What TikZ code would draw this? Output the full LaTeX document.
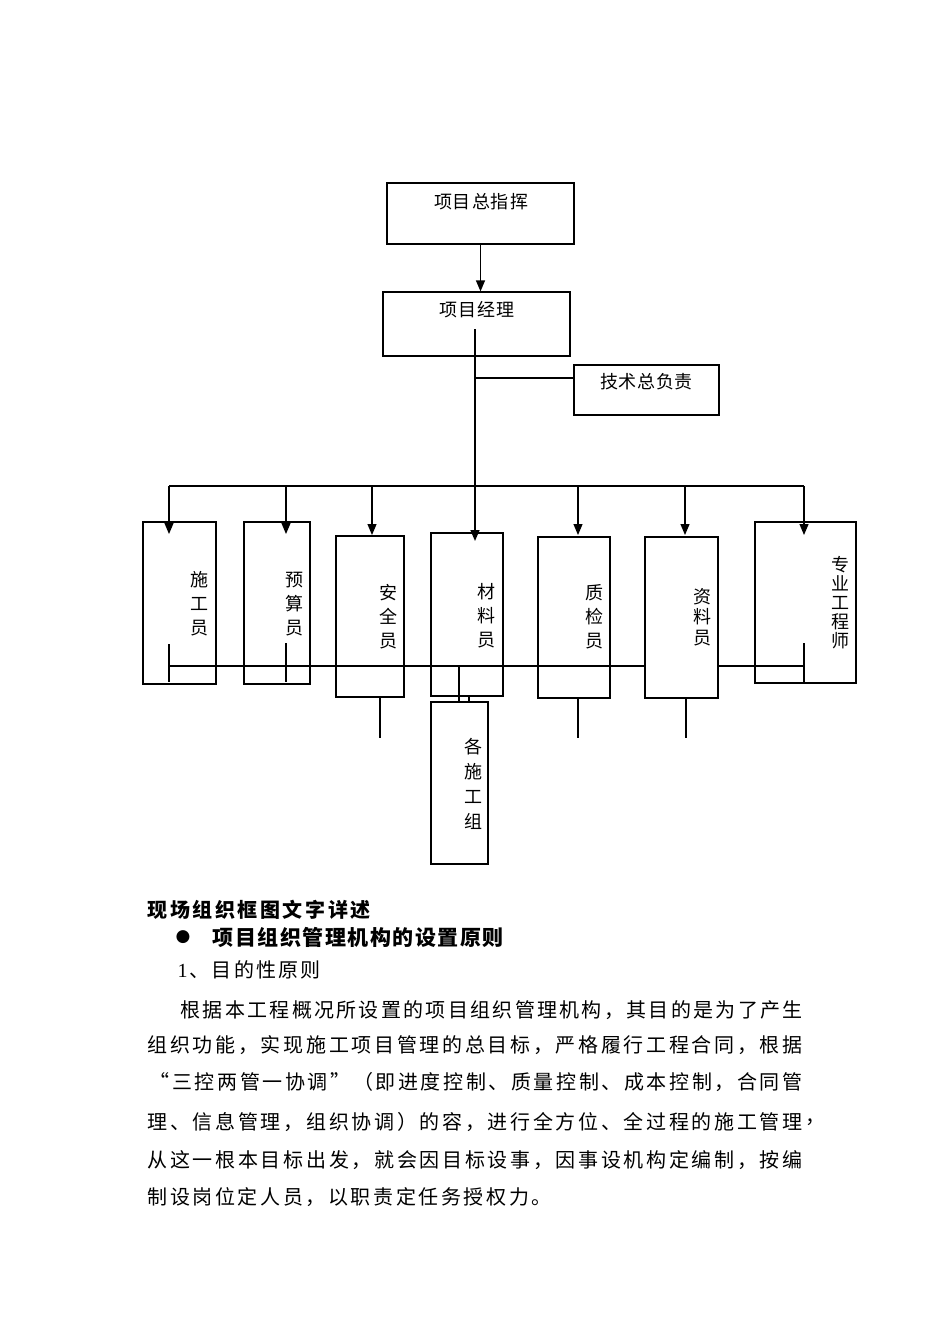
\documentclass[tikz,border=0pt]{standalone}
\usepackage{fontspec}
\setmainfont{Noto Sans CJK SC}
\newfontfamily\dejavu{DejaVu Sans}
\newfontfamily\lserif{Liberation Serif}
\usetikzlibrary{arrows.meta}
\makeatletter
\newcommand\spreadline[2]{\hbox to #1{\spr@first#2\relax}}
\def\spr@first#1{#1\spr@next}
\def\spr@next#1{\ifx\relax#1\else\hfil#1\expandafter\spr@next\fi}
\makeatother
\begin{document}
\begin{tikzpicture}[x=1pt,y=-1pt,line width=1.2pt,
  bx/.style={draw=black,line width=1.2pt,rectangle,inner sep=0pt},
  arr/.style={-{Triangle[length=11pt,width=9pt]}},
  hl/.style={inner sep=0pt,font=\fontsize{18}{20}\selectfont},
  vl/.style={inner sep=0pt,align=center,font=\fontsize{18}{#1}\selectfont},
  body/.style={inner sep=0pt,anchor=west,font=\fontsize{20}{24}\selectfont},
  hd/.style={inner sep=0pt,anchor=west,font=\fontsize{#1}{24}\selectfont\bfseries}]

\useasboundingbox[fill=white] (0,0) rectangle (950,1344);

% ---- top boxes
\node[bx,minimum width=187pt,minimum height=61pt] (zhz) at (480.5,213.5) {};
\node[hl] (zhzT) at (481,202) {\spreadline{94pt}{项目总指挥}};
\node[bx,minimum width=187pt,minimum height=64pt] (jl) at (476.5,324) {};
\node[hl] (jlT) at (477,310) {\spreadline{75pt}{项目经理}};
\node[bx,minimum width=145pt,minimum height=50pt] (js) at (646.5,390) {};
\node[hl] (jsT) at (646.5,382) {\spreadline{93pt}{技术总负责}};

\draw[arr] (zhz.south) -- (zhz.south |- jl.north);

\coordinate (jin) at (475,329);
\coordinate (br) at (475,378);
\draw (br) -- (br -| js.west);

% ---- buses
\coordinate (busL) at (169,486);
\coordinate (busR) at (804,486);
\draw (busL) -- (busR);
\coordinate (lowL) at (169,666);
\coordinate (lowR) at (804,666);
\draw (lowL) -- (lowR);

% ---- lines under boxes
\draw (169,644) -- (169,682);
\draw (286,643) -- (286,682);
\draw (804,643) -- (804,683);
\draw (380,697) -- (380,738);
\draw (578,698) -- (578,738);
\draw (686,698) -- (686,738);
\draw (459,666) -- (459,702);
\draw (469,696) -- (469,702);

% ---- row of boxes
\node[bx,minimum width=73pt,minimum height=162pt] (sg) at (179.5,603) {};
\node[bx,minimum width=66pt,minimum height=162pt] (ys) at (277,603) {};
\node[bx,minimum width=68pt,minimum height=161pt] (aq) at (370,616.5) {};
\node[bx,minimum width=72pt,minimum height=163pt] (cl) at (467,614.5) {};
\node[bx,minimum width=72pt,minimum height=161pt] (zj) at (574,617.5) {};
\node[bx,fill=white,minimum width=73pt,minimum height=161pt] (zl) at (681.5,617.5) {};
\node[bx,minimum width=101pt,minimum height=161pt] (zy) at (805.5,602.5) {};
\node[bx,minimum width=57pt,minimum height=162pt] (gs) at (459.5,783) {};

\node[vl=24pt] (sgT) at (199,604) {施\\工\\员};
\node[vl=24pt] (ysT) at (294,604) {预\\算\\员};
\node[vl=24pt] (aqT) at (388,617) {安\\全\\员};
\node[vl=24pt] (clT) at (486,616) {材\\料\\员};
\node[vl=24pt] (zjT) at (594,617) {质\\检\\员};
\node[vl=20.5pt] (zlT) at (702,617) {资\\料\\员};
\node[vl=19pt] (zyT) at (840,603) {专\\业\\工\\程\\师};
\node[vl=25pt] (gsT) at (473,784) {各\\施\\工\\组};

% ---- arrows from bus
\draw[arr] (busL) -- (169,534);
\draw[arr] (286,486) -- (286,534);
\draw[arr] (372,486) -- (372,535);
\draw[arr] (578,486) -- (578,535);
\draw[arr] (685,486) -- (685,535);
\draw[arr] (busR) -- (804,535);
\draw[arr,line width=1.6pt] (jin) -- (475,541);

% ---- text section
\node[hd=20pt] (h1) at (147,910) {\spreadline{223pt}{现场组织框图文字详述}};
\node[inner sep=0pt,font=\dejavu\fontsize{17}{20}\selectfont] (bul) at (183,937) {●};
\node[hd=21pt] (h2) at (212,937) {\spreadline{291pt}{项目组织管理机构的设置原则}};
\node[body] (p0) at (177,970) {\hbox to 143pt{{\lserif 1}\hfil 、\hfil 目\hfil 的\hfil 性\hfil 原\hfil 则}};
\node[body] (l1) at (180,1010) {\spreadline{622pt}{根据本工程概况所设置的项目组织管理机构，其目的是为了产生}};
\node[body] (l2) at (147,1045) {\spreadline{655pt}{组织功能，实现施工项目管理的总目标，严格履行工程合同，根据}};
\node[body] (l3) at (149,1082) {\spreadline{653pt}{“三控两管一协调”（即进度控制、质量控制、成本控制，合同管}};
\node[body] (l4) at (147,1122) {\spreadline{655pt}{理、信息管理，组织协调）的容，进行全方位、全过程的施工管理}};
\node[body] (l4c) at (805,1122) {，};
\node[body] (l5) at (147,1160) {\spreadline{655pt}{从这一根本目标出发，就会因目标设事，因事设机构定编制，按编}};
\node[body] (l6) at (147,1197) {\spreadline{404pt}{制设岗位定人员，以职责定任务授权力。}};
\end{tikzpicture}
\end{document}
